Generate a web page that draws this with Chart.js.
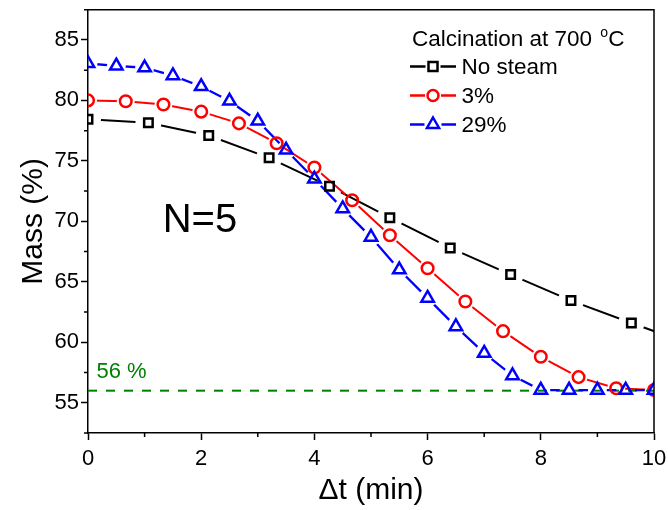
<!DOCTYPE html>
<html><head><meta charset="utf-8">
<script src="https://cdn.jsdelivr.net/npm/chart.js@4/dist/chart.umd.min.js"></script>
<style>html,body{margin:0;padding:0;background:#fff;} canvas{display:block;}</style>
</head><body>
<canvas id="c" width="668" height="510"></canvas>
<script>
// ---- data ----
const tNoSteam = [0, 1.067, 2.133, 3.2, 4.267, 5.333, 6.4, 7.467, 8.533, 9.6, 10.667];
const massNoSteam = [78.45, 78.15, 77.1, 75.25, 72.9, 70.3, 67.8, 65.6, 63.45, 61.6, 59.8];
const t3 = [0, 0.667, 1.333, 2, 2.667, 3.333, 4, 4.667, 5.333, 6, 6.667, 7.333, 8, 8.667, 9.333, 10];
const mass3 = [80.0, 79.93, 79.66, 79.07, 78.1, 76.46, 74.45, 71.75, 68.85, 66.12, 63.37, 60.92, 58.8, 57.12, 56.2, 56.05];
const t29 = [0, 0.5, 1, 1.5, 2, 2.5, 3, 3.5, 4, 4.5, 5, 5.5, 6, 6.5, 7, 7.5, 8, 8.5, 9, 9.5, 10];
const mass29 = [83.05, 82.85, 82.7, 82.05, 81.15, 79.95, 78.3, 75.9, 73.5, 71.05, 68.7, 66.0, 63.65, 61.3, 59.1, 57.25, 56.05, 56.05, 56.05, 56.05, 56.05];
const refX = [0, 10];
const refLevel = [56, 56];
const seriesLabels = ['No steam', '3%', '29%'];
const xTicks = [0, 2, 4, 6, 8, 10];
const xMinor = [1, 3, 5, 7, 9];
const yTicks = [55, 60, 65, 70, 75, 80, 85];
const yMinor = [52.5, 57.5, 62.5, 67.5, 72.5, 77.5, 82.5, 87.5];

const FONT = "'Liberation Sans', Arial, sans-serif";
Chart.defaults.font.family = FONT;
Chart.defaults.color = '#000';

const pts = (xs, ys) => xs.map((x, i) => ({x: x, y: ys[i]}));

const BLACK = '#000000', RED = '#ff0000', BLUE = '#0000ff', GREEN = '#008000';

// clip every dataset to the plot area; line datasets also get gaps around their own symbols
const gapPlugin = {
  id: 'gaps',
  beforeDatasetDraw(chart, args) {
    const ds = chart.data.datasets[args.index];
    const ctx = chart.ctx, a = chart.chartArea;
    ctx.save();
    ctx.beginPath();
    ctx.rect(a.left, a.top, a.right - a.left, a.bottom - a.top);
    ctx.clip();
    if (ds.gapRadius) {
      const r = ds.gapRadius;
      ctx.beginPath();
      ctx.rect(0, 0, chart.width, chart.height);
      args.meta.data.forEach(p => { ctx.moveTo(p.x + r, p.y); ctx.arc(p.x, p.y, r, 0, Math.PI * 2); });
      ctx.clip('evenodd');
    }
  },
  afterDatasetDraw(chart) {
    chart.ctx.restore();
  }
};

const decoPlugin = {
  id: 'deco',
  afterDraw(chart) {
    const ctx = chart.ctx, a = chart.chartArea;
    const xs = chart.scales.x, ys = chart.scales.y;
    ctx.save();
    // frame top/right
    ctx.strokeStyle = '#000'; ctx.lineWidth = 1.5;
    ctx.beginPath();
    ctx.moveTo(a.left, a.top); ctx.lineTo(a.right, a.top); ctx.lineTo(a.right, a.bottom);
    ctx.stroke();
    // minor ticks
    ctx.beginPath();
    xMinor.forEach(v => { const px = xs.getPixelForValue(v); ctx.moveTo(px, a.bottom); ctx.lineTo(px, a.bottom + 4); });
    yMinor.forEach(v => { const py = ys.getPixelForValue(v); ctx.moveTo(a.left, py); ctx.lineTo(a.left - 4, py); });
    ctx.stroke();

    // "56 %" label
    ctx.fillStyle = GREEN;
    ctx.font = '22px ' + FONT;
    ctx.textBaseline = 'alphabetic';
    ctx.textAlign = 'left';
    ctx.fillText('56 %', xs.getPixelForValue(0.15), ys.getPixelForValue(refLevel[0]) - 13);

    // N=5
    ctx.fillStyle = '#000';
    ctx.font = '40px ' + FONT;
    ctx.fillText('N=5', xs.getPixelForValue(1.32), ys.getPixelForValue(69.1));

    // legend
    ctx.font = '22.5px ' + FONT;
    const tx = 412, tb = 46;
    const part1 = 'Calcination at 700 ';
    ctx.fillText(part1, tx, tb);
    let w = ctx.measureText(part1).width;
    ctx.font = '14px ' + FONT;
    ctx.fillText('o', tx + w + 2, tb - 9.5);
    const ow = ctx.measureText('o').width;
    ctx.font = '22.5px ' + FONT;
    ctx.fillText('C', tx + w + ow + 2, tb);

    const rows = [
      {label: seriesLabels[0], color: BLACK, shape: 'rect', cy: 66.5, base: 73.5, g: 7.5},
      {label: seriesLabels[1], color: RED, shape: 'circle', cy: 95.5, base: 102.5, g: 8},
      {label: seriesLabels[2], color: BLUE, shape: 'tri', cy: 124.5, base: 131.5, g: 8.5}
    ];
    const lx0 = 410, lx1 = 456, mx = 433;
    rows.forEach(r => {
      ctx.strokeStyle = r.color; ctx.lineWidth = 2.5;
      ctx.beginPath();
      ctx.moveTo(lx0, r.cy); ctx.lineTo(mx - r.g, r.cy);
      ctx.moveTo(mx + r.g, r.cy); ctx.lineTo(lx1, r.cy);
      ctx.stroke();
      ctx.beginPath();
      if (r.shape === 'rect') ctx.rect(mx - 4.5, r.cy - 4.5, 9, 9);
      else if (r.shape === 'circle') ctx.arc(mx, r.cy, 5.5, 0, Math.PI * 2);
      else { const R = 7; ctx.moveTo(mx, r.cy - R); ctx.lineTo(mx + R * 0.866, r.cy + R / 2); ctx.lineTo(mx - R * 0.866, r.cy + R / 2); ctx.closePath(); }
      ctx.stroke();
      ctx.fillStyle = '#000';
      ctx.fillText(r.label, 461.5, r.base);
    });
    ctx.restore();
  }
};

const bgPlugin = {
  id: 'bg',
  beforeDraw(chart) { const c = chart.ctx; c.save(); c.fillStyle = '#fff'; c.fillRect(0, 0, chart.width, chart.height); c.restore(); }
};

const lineDs = (label, xs, ys, color, width, gap, order) => ({
  label: label, data: pts(xs, ys), showLine: true, borderColor: color, borderWidth: width,
  pointRadius: 0, pointHoverRadius: 0, fill: false, tension: 0, gapRadius: gap, order: order
});
const markDs = (label, xs, ys, color, style, radius, order) => ({
  label: label, data: pts(xs, ys), showLine: false, pointStyle: style, pointRadius: radius,
  pointHoverRadius: radius, pointBorderColor: color, pointBackgroundColor: 'rgba(0,0,0,0)',
  pointBorderWidth: 2.5, order: order
});

new Chart(document.getElementById('c'), {
  type: 'scatter',
  data: {
    datasets: [
      {label: '56 %', data: pts(refX, refLevel), borderColor: GREEN, borderWidth: 2, borderDash: [9, 9],
       showLine: true, pointRadius: 0, fill: false, order: 20},
      lineDs(seriesLabels[0], tNoSteam, massNoSteam, BLACK, 2, 13, 12),
      lineDs(seriesLabels[1], t3, mass3, RED, 2, 9, 11),
      lineDs(seriesLabels[2], t29, mass29, BLUE, 2.3, 9.5, 10),
      markDs(seriesLabels[0], tNoSteam, massNoSteam, BLACK, 'rect', 6, 3),
      markDs(seriesLabels[1], t3, mass3, RED, 'circle', 5.8, 2),
      markDs(seriesLabels[2], t29, mass29, BLUE, 'triangle', 7.2, 1)
    ]
  },
  options: {
    responsive: false, animation: false, devicePixelRatio: 1,
    layout: {padding: {top: 3, right: 14, left: 0, bottom: 0}},
    plugins: {legend: {display: false}, tooltip: {enabled: false}},
    events: [],
    scales: {
      x: {
        type: 'linear', min: 0, max: 10,
        afterBuildTicks: s => { s.ticks = xTicks.map(v => ({value: v})); },
        afterFit: s => { s.height = 77; s.paddingLeft = 0; s.paddingRight = 0; },
        ticks: {font: {size: 22}, color: '#000', padding: 6, maxRotation: 0, autoSkip: false},
        grid: {drawOnChartArea: false, drawTicks: true, tickLength: 7, tickColor: '#000', tickWidth: 1.5},
        border: {display: true, color: '#000', width: 1.5},
        title: {display: true, text: 'Δt (min)', font: {size: 30}, color: '#000', padding: {top: 0, bottom: 1}}
      },
      y: {
        type: 'linear', min: 52.5, max: 87.5,
        afterBuildTicks: s => { s.ticks = yTicks.map(v => ({value: v})); },
        afterFit: s => { s.width = 88; s.paddingTop = 0; s.paddingBottom = 0; },
        ticks: {font: {size: 22}, color: '#000', padding: 2, autoSkip: false},
        grid: {drawOnChartArea: false, drawTicks: true, tickLength: 7, tickColor: '#000', tickWidth: 1.5},
        border: {display: true, color: '#000', width: 1.5},
        title: {display: true, text: 'Mass (%)', font: {size: 30}, color: '#000', padding: {top: 16, bottom: 0}}
      }
    }
  },
  plugins: [bgPlugin, gapPlugin, decoPlugin]
});
</script>
</body></html>
